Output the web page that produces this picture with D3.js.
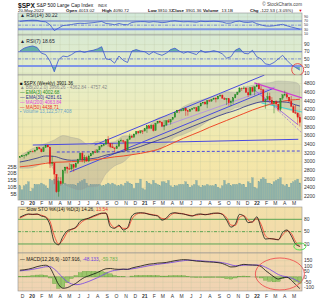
<!DOCTYPE html>
<html>
<head>
<meta charset="utf-8">
<script src="https://cdnjs.cloudflare.com/ajax/libs/d3/7.8.5/d3.min.js"></script>
<style>
  body { margin: 0; background: #fff; }
  svg { display: block; font-family: Arial, "Liberation Sans", sans-serif; }
</style>
</head>
<body>
<svg id="chart" width="324" height="300"></svg>
<script>
// weekly $SPX candles, first week ending 22-Nov-2019
const firstOpen = 3093;
const closes = [3110,3141,3146,3169,3221,3240,
  3235,3265,3330,3295,3226,3328,3380,3338,2954,2972,2711,2305,2541,2489,2790,2875,2837,2830,2930,2864,2955,3044,3194,3041,3098,3009,3130,3185,3225,3216,3271,3351,3373,3397,3508,3427,3341,3319,3298,3348,3477,3484,3465,3270,3510,3585,3558,3638,3699,3663,3709,3703,3756,
  3825,3768,3841,3714,3887,3934,3907,3811,3842,3943,3913,3975,4020,4129,4185,4180,4181,4233,4174,4156,4204,4230,4247,4166,4281,4352,4370,4327,4412,4395,4437,4468,4442,4509,4535,4459,4433,4455,4357,4391,4471,4545,4605,4697,4683,4698,4595,4538,4712,4621,4726,4766,
  4677,4663,4398,4432,4501,4419,4349,4385,4329,4204,4463,4543,4546,4488,4393,4272,4132,4123,4024,3901];
const highs = [3127,3154,3157,3183,3226,3248,
  3258,3282,3330,3338,3285,3347,3385,3393,3259,3137,2882,2553,2641,2641,2819,2880,2888,2965,2934,2938,2980,3068,3211,3233,3155,3133,3165,3198,3238,3280,3272,3352,3387,3399,3510,3588,3425,3429,3320,3397,3485,3534,3501,3466,3530,3646,3628,3645,3701,3712,3726,3712,3760,
  3826,3823,3861,3870,3895,3937,3950,3928,3960,3960,3983,3977,4021,4129,4191,4194,4219,4238,4237,4188,4217,4234,4249,4262,4286,4356,4372,4393,4415,4430,4441,4468,4480,4513,4545,4549,4485,4466,4465,4429,4475,4559,4608,4718,4708,4743,4717,4705,4713,4732,4740,4808,
  4819,4749,4665,4453,4596,4589,4490,4385,4416,4330,4465,4546,4637,4593,4488,4513,4308,4307,4127,4091];
const lows = [3090,3113,3070,3120,3175,3223,
  3212,3214,3263,3280,3214,3235,3315,3328,2855,2902,2478,2280,2191,2447,2578,2727,2727,2814,2797,2766,2903,2969,3045,2984,2966,3004,2999,3127,3152,3200,3205,3260,3328,3355,3396,3349,3310,3314,3209,3297,3361,3465,3425,3233,3279,3511,3543,3594,3622,3633,3648,3636,3723,
  3663,3749,3750,3694,3725,3875,3884,3805,3723,3830,3893,3853,3955,4034,4124,4118,4174,4167,4056,4061,4152,4186,4215,4165,4164,4279,4321,4321,4233,4373,4384,4427,4367,4448,4513,4457,4428,4306,4288,4278,4329,4460,4537,4595,4630,4670,4585,4495,4532,4600,4531,4733,
  4662,4582,4395,4222,4436,4401,4327,4115,4279,4157,4161,4424,4507,4450,4381,4268,4129,4106,3859,3810];
// weekly volume, billions
const volumes = [11,8,11,12,14,7,
  9,12,12,12,13,12,11,9,16,15,16,17,15,13,12,13,12,12,12,12,11,13,14,15,16,13,11,12,12,12,12,12,11,11,12,13,12,13,12,11,11,12,11,13,14,13,12,9,13,13,16,9,8,
  14,13,12,15,13,12,11,14,14,13,15,11,10,11,11,12,12,12,14,12,10,11,12,15,11,10,11,11,12,11,11,11,12,10,9,11,15,12,13,11,12,12,12,13,12,12,10,14,13,17,10,9,
  14,16,17,16,13,13,12,14,15,16,17,12,11,12,10,13,14,15,16,13.1];

// every 4th week (last one = final week)
const bbUpper = [3130,3250,3350,3420,3500,3600,3560,3510,3380,3470,3440,3460,3590,3600,3700,3840,4000,4050,4120,4270,4360,4420,4480,4540,4610,4600,4710,4760,4810,4820,4860,4850,4830,4757];
const bbLower = [2850,2850,2900,2990,2800,2500,2400,2350,2420,2430,2720,2900,2990,3160,3220,3240,3240,3410,3560,3630,3720,3820,3960,4060,4130,4240,4270,4320,4370,4340,4260,4210,4110,3966];
const ma50 = [2880,2900,2930,2960,2985,2990,3000,3010,3030,3050,3080,3110,3130,3160,3190,3230,3280,3360,3450,3540,3620,3700,3790,3870,3950,4030,4110,4190,4260,4320,4370,4410,4430,4439];
const ema30 = [2990,3030,3080,3130,3120,3060,3030,3040,3060,3090,3150,3190,3240,3290,3350,3420,3490,3560,3640,3730,3810,3890,3970,4050,4120,4180,4260,4330,4380,4390,4380,4370,4310,4282];

// every 2nd week
const rsi14 = [68,71,73,74,73,68,66,52,24,36,48,50,53,57,59,58,60,62,65,68,58,56,52,58,53,52,63,66,67,67,64,67,65,62,64,69,71,68,66,67,66,64,69,67,68,69,68,65,59,60,67,70,64,63,66,57,51,46,45,47,51,54,47,41,36,30.22];
const rsi7 = [72,80,84,86,82,66,62,44,14,48,58,56,62,70,72,68,72,74,78,84,50,48,38,58,46,40,72,76,72,70,62,70,64,60,66,76,80,72,66,70,66,62,74,68,70,73,70,64,52,56,74,80,66,64,74,56,50,36,34,40,50,60,46,34,26,18.65];
const stoK = [85,90,93,92,93,88,85,66,25,18,38,52,56,61,75,80,83,88,92,95,95,62,58,66,54,60,88,95,96,95,92,90,88,78,83,94,96,94,93,90,88,92,93,91,93,95,95,92,78,61,68,92,88,72,74,86,58,32,33,32,30,48,54,40,20,14.26];
const stoD = [83,88,92,92,92,90,86,75,40,20,30,48,55,59,70,78,82,86,90,94,95,70,60,63,58,58,80,92,95,95,93,91,89,82,81,90,95,95,93,91,89,90,92,92,92,94,95,93,84,66,65,85,89,78,73,82,68,40,33,32,31,42,52,46,26,13.54];
const macd = [62,66,72,82,95,104,108,85,10,-70,-105,-100,-80,-60,-30,-5,10,25,40,60,75,78,72,70,72,70,82,92,100,110,118,122,128,130,134,142,150,156,160,158,152,146,144,140,138,136,132,124,108,92,94,108,116,112,110,108,96,60,30,0,-20,-8,-4,-30,-70,-107.9];
const signal = [55,60,64,70,78,86,94,95,72,35,-10,-45,-65,-72,-68,-56,-42,-25,-8,12,32,50,60,66,70,70,74,80,88,96,104,110,116,122,126,132,138,145,150,154,154,152,149,146,143,140,137,132,124,112,104,104,108,110,110,110,106,90,70,46,22,8,0,-10,-28,-48.1];
const hist = [7,6,8,12,17,18,14,-10,-62,-105,-95,-55,-15,12,38,51,52,50,48,48,43,28,12,4,2,0,8,12,12,14,14,12,12,8,8,10,12,11,10,4,-2,-6,-5,-6,-5,-4,-5,-8,-16,-20,-10,4,8,2,0,-2,-10,-30,-40,-46,-42,-16,-4,-20,-42,-59.8];

// drawn trendlines: [date, price]
const trendLines = [
  { pts: [['2020-07-22', 3383], ['2022-01-25', 4998]], color: '#4a4ae0', w: 1 },
  { pts: [['2020-05-02', 2761], ['2022-02-26', 4698]], color: '#4a4ae0', w: 1 },
  { pts: [['2021-02-25', 3799], ['2022-02-26', 4722]], color: '#b08ae8', w: 0.8 },
  { pts: [['2020-01-03', 3383], ['2022-05-15', 3515]], color: '#4a4ae0', w: 1 },
  { pts: [['2020-03-21', 3222], ['2022-05-27', 3245]], color: '#4a4ae0', w: 1, dash: '3,2' },
  { pts: [['2021-12-23', 4814], ['2022-05-27', 4468]], color: '#d040d0', w: 1.3 },
  { pts: [['2021-12-23', 4652], ['2022-05-15', 3845]], color: '#a070e0', w: 1 },
  { pts: [['2022-01-15', 4537], ['2022-05-27', 3660]], color: '#a070e0', w: 0.8, dash: '2,1.5' },
  { pts: [['2022-01-15', 4352], ['2022-05-27', 4145]], color: '#3fd8d8', w: 1 }
];

const priceTicks = [4800,4600,4400,4200,4000,3800,3600,3400,3200,3000,2800,2600,2400,2200];
const volTicks = [25,20,15,10,5];
const rsiTicks = [90,70,50,30,10];
const stoTicks = [80,50,20];
const macdTicks = [150,100,50,0,-50,-100];

const parse = d3.timeParse('%Y-%m-%d');
const weekDates = closes.map((c, i) => d3.timeDay.offset(new Date(2019, 10, 22), i * 7));
const oscDates = rsi14.map((v, k) => weekDates[k * 2]);
const slowDates = bbUpper.map((v, k) => weekDates[Math.min(k * 4, closes.length - 1)]);

const L = 18, R = 302;
const x = d3.scaleTime().domain([new Date(2019, 10, 16), new Date(2022, 4, 27)]).range([L, R]);

const panels = {
  rsi14: [13, 35], rsi7: [35, 75], main: [75, 200], sto: [207, 253], macd: [253, 291]
};
const yPrice = d3.scaleLinear().domain([2200, 4800]).range([196.3, 83.6]);
const yVol = d3.scaleLinear().domain([0, 25]).range([200.5, 167]);
const yRsi14 = d3.scaleLinear().domain([0, 100]).range([35.5, 14.8]);
const yRsi7 = d3.scaleLinear().domain([0, 100]).range([76.8, 41]);
const ySto = d3.scaleLinear().domain([0, 100]).range([252.2, 211.1]);
const yMacd = d3.scaleLinear().domain([-100, 150]).range([287.7, 260.7]);

const svg = d3.select('#chart');
const defs = svg.append('defs');
const grad = defs.append('linearGradient').attr('id', 'bg')
  .attr('gradientUnits', 'userSpaceOnUse').attr('x1', 0).attr('y1', 13).attr('x2', 0).attr('y2', 291);
[[0, '#d2e8d8'], [0.25, '#e7edc6'], [0.5, '#f4e8a8'], [0.78, '#f2dcaa'], [1, '#f0d3b3']]
  .forEach(s => grad.append('stop').attr('offset', s[0]).attr('stop-color', s[1]));

const months = d3.timeMonth.range(new Date(2019, 11, 1), new Date(2022, 5, 1));

function panel(name, yTicks, yScale, tickSize) {
  const [y0, y1] = panels[name];
  const fs = tickSize || 5;
  defs.append('clipPath').attr('id', 'clip-' + name)
    .append('rect').attr('x', L).attr('y', y0).attr('width', R - L).attr('height', y1 - y0);
  svg.append('rect').attr('x', L).attr('y', y0).attr('width', R - L).attr('height', y1 - y0)
    .attr('fill', 'url(#bg)');
  const g = svg.append('g').attr('clip-path', `url(#clip-${name})`);
  g.selectAll('.vg').data(months).enter().append('line')
    .attr('x1', d => x(d)).attr('x2', d => x(d)).attr('y1', y0).attr('y2', y1)
    .attr('stroke', '#b9bf9c').attr('stroke-opacity', 0.45).attr('stroke-width', 0.5);
  g.selectAll('.hg').data(yTicks).enter().append('line')
    .attr('x1', L).attr('x2', R).attr('y1', d => yScale(d)).attr('y2', d => yScale(d))
    .attr('stroke', '#b9bf9c').attr('stroke-opacity', 0.45).attr('stroke-width', 0.5);
  // right axis labels
  svg.selectAll(null).data(yTicks).enter().append('text')
    .attr('x', R + 2).attr('y', d => yScale(d) + fs * 0.34)
    .attr('font-size', fs).attr('fill', '#333').text(d => d);
  return g;
}

function border(name) {
  const [y0, y1] = panels[name];
  svg.append('rect').attr('x', L).attr('y', y0).attr('width', R - L).attr('height', y1 - y0)
    .attr('fill', 'none').attr('stroke', '#8f8f8f').attr('stroke-width', 0.6);
}

// ---------- header ----------
const head = svg.append('g').attr('fill', '#111');
head.append('text').attr('x', L).attr('y', 7.6).attr('font-size', 6.6).attr('font-weight', 'bold').text('$SPX');
head.append('text').attr('x', 36.5).attr('y', 7.2).attr('font-size', 4.9).text('S&P 500 Large Cap Index');
head.append('text').attr('x', 98).attr('y', 7.2).attr('font-size', 3.8).text('INDX');
head.append('text').attr('x', R).attr('y', 5.5).attr('font-size', 4.6).attr('text-anchor', 'end')
  .attr('fill', '#444').text('© StockCharts.com');
const info = [
  [L, '20-May-2022', false], [66, 'Open', true], [78.5, '4013.02', false], [102, 'High', true],
  [113, '4090.72', false], [148, 'Low', true], [157.5, '3810.32', false], [172, 'Close', true],
  [185.5, '3901.36', false], [203, 'Volume', true], [221.5, '13.1B', false], [250, 'Chg', true],
  [260, '-122.53 (-3.05%)', false]
];
info.forEach(d => head.append('text').attr('x', d[0]).attr('y', 12.3).attr('font-size', 4.4)
  .attr('font-weight', d[2] ? 'bold' : 'normal').text(d[1]));
head.append('text').attr('x', 298.5).attr('y', 12.3).attr('font-size', 4).attr('fill', '#e00000').text('▼');

// ---------- RSI panels ----------
function rsiPanel(name, vals, yS, label, fs) {
  const g = panel(name, rsiTicks, yS, fs);
  const [y0, y1] = panels[name];
  const pts = vals.map((v, k) => [x(oscDates[k]), v]);
  defs.append('clipPath').attr('id', name + '-hi').append('rect')
    .attr('x', L).attr('y', y0).attr('width', R - L).attr('height', yS(70) - y0);
  defs.append('clipPath').attr('id', name + '-lo').append('rect')
    .attr('x', L).attr('y', yS(30)).attr('width', R - L).attr('height', y1 - yS(30));
  g.append('path').datum(pts).attr('clip-path', `url(#${name}-hi)`)
    .attr('d', d3.area().x(d => d[0]).y0(yS(70)).y1(d => yS(d[1])))
    .attr('fill', '#3f9c98').attr('fill-opacity', 0.75);
  g.append('path').datum(pts).attr('clip-path', `url(#${name}-lo)`)
    .attr('d', d3.area().x(d => d[0]).y0(yS(30)).y1(d => yS(d[1])))
    .attr('fill', '#3f9c98').attr('fill-opacity', 0.75);
  g.append('line').attr('x1', L).attr('x2', R).attr('y1', yS(70)).attr('y2', yS(70))
    .attr('stroke', '#5468d8').attr('stroke-width', 0.9);
  g.append('line').attr('x1', L).attr('x2', R).attr('y1', yS(50)).attr('y2', yS(50))
    .attr('stroke', '#5468d8').attr('stroke-width', 0.7).attr('stroke-dasharray', '3,1.5,1,1.5');
  g.append('line').attr('x1', L).attr('x2', R).attr('y1', yS(30)).attr('y2', yS(30))
    .attr('stroke', '#7f95e6').attr('stroke-width', 2);
  g.append('path').datum(pts).attr('d', d3.line().x(d => d[0]).y(d => yS(d[1])))
    .attr('fill', 'none').attr('stroke', '#3b55d0').attr('stroke-width', 0.8);
  svg.append('text').attr('x', L + 2).attr('y', y0 + (name === 'rsi14' ? 4.2 : 7.8))
    .attr('font-size', 5).attr('fill', '#223').text(label);
  border(name);
}
rsiPanel('rsi14', rsi14, yRsi14, '▲ RSI(14) 30.22', 3.6);
rsiPanel('rsi7', rsi7, yRsi7, '▲ RSI(7) 18.65', 5);
svg.append('circle').attr('cx', x(weekDates[129])).attr('cy', yRsi7(20)).attr('r', 6)
  .attr('fill', 'none').attr('stroke', '#e84040').attr('stroke-width', 0.9);

// ---------- main price panel ----------
const gm = panel('main', priceTicks, yPrice);
// volume
gm.selectAll('.vol').data(volumes).enter().append('rect')
  .attr('x', (d, i) => x(weekDates[i]) - 0.95).attr('width', 1.9)
  .attr('y', d => yVol(d)).attr('height', d => yVol(0) - yVol(d))
  .attr('fill', '#8fb2aa').attr('stroke', '#7aa39a').attr('stroke-width', 0.25);
svg.selectAll('.vt').data(volTicks).enter().append('text')
  .attr('x', L - 1.5).attr('y', d => yVol(d) + 1.7).attr('text-anchor', 'end')
  .attr('font-size', 5).attr('fill', '#333').text(d => d + 'B');
// bollinger band
gm.append('path').datum(bbUpper.map((u, k) => [slowDates[k], u, bbLower[k]]))
  .attr('d', d3.area().curve(d3.curveMonotoneX).x(d => x(d[0])).y0(d => yPrice(d[2])).y1(d => yPrice(d[1])))
  .attr('fill', '#8c8c8c').attr('fill-opacity', 0.3).attr('stroke', '#9a9a9a').attr('stroke-width', 0.3);
// trendlines
trendLines.forEach(t => gm.append('line')
  .attr('x1', x(parse(t.pts[0][0]))).attr('y1', yPrice(t.pts[0][1]))
  .attr('x2', x(parse(t.pts[1][0]))).attr('y2', yPrice(t.pts[1][1]))
  .attr('stroke', t.color).attr('stroke-width', t.w).attr('stroke-dasharray', t.dash || null));
// averages
const avgLine = d3.line().curve(d3.curveMonotoneX).x((d, k) => x(slowDates[k])).y(d => yPrice(d));
gm.append('path').datum(ma50).attr('d', avgLine).attr('fill', 'none')
  .attr('stroke', '#ee4a2a').attr('stroke-width', 1);
gm.append('path').datum(ema30).attr('d', avgLine).attr('fill', 'none')
  .attr('stroke', '#2b2f8a').attr('stroke-width', 0.8);
// candles
const opens = closes.map((c, i) => i ? closes[i - 1] : firstOpen);
const cand = gm.selectAll('.c').data(closes).enter().append('g')
  .attr('stroke', (c, i) => c >= opens[i] ? '#1f7a1f' : '#e01818')
  .attr('fill', (c, i) => c >= opens[i] ? '#2e9a2e' : '#e01818');
cand.append('line').attr('x1', (c, i) => x(weekDates[i])).attr('x2', (c, i) => x(weekDates[i]))
  .attr('y1', (c, i) => yPrice(highs[i])).attr('y2', (c, i) => yPrice(lows[i])).attr('stroke-width', 0.5);
cand.append('rect').attr('x', (c, i) => x(weekDates[i]) - 0.75).attr('width', 1.5)
  .attr('y', (c, i) => yPrice(Math.max(c, opens[i])))
  .attr('height', (c, i) => Math.max(0.6, Math.abs(yPrice(c) - yPrice(opens[i]))))
  .attr('stroke-width', 0.2);
// legend
const legend = [
  ['$SPX (Weekly) 3901.36', '#111', '■'],
  ['BB(20,2.0) 3966.26 - 4362.84 - 4757.42', '#8a8a8a', '▲'],
  ['EMA(3) 4002.68', '#1a8a1a', '—'],
  ['EMA(30) 4281.61', '#2b2f8a', '—'],
  ['MA(200) 4063.84', '#e040e0', '—'],
  ['MA(50) 4438.71', '#ee2a2a', '—'],
  ['Volume 13,122,577,408', '#6aa6c8', '▪']
];
legend.forEach((d, k) => svg.append('text').attr('x', L + 2).attr('y', 84.5 + k * 4.8)
  .attr('font-size', 4.6).attr('fill', d[1]).text(d[2] + ' ' + d[0]));
border('main');

// month labels
function monthLabels(y) {
  svg.selectAll(null).data(months).enter().append('text')
    .attr('x', d => x(d)).attr('y', y).attr('text-anchor', 'middle').attr('font-size', 5)
    .attr('font-weight', d => d.getMonth() === 0 ? 'bold' : 'normal').attr('fill', '#333')
    .text(d => d.getMonth() === 0 ? d3.timeFormat('%y')(d) : d3.timeFormat('%b')(d)[0]);
}
monthLabels(205);
monthLabels(297.5);

// ---------- stochastics ----------
const gs = panel('sto', stoTicks, ySto);
[[80, null], [50, '3,1.5,1,1.5'], [20, null]].forEach(l => gs.append('line')
  .attr('x1', L).attr('x2', R).attr('y1', ySto(l[0])).attr('y2', ySto(l[0]))
  .attr('stroke', '#3d9a3d').attr('stroke-width', 0.8).attr('stroke-dasharray', l[1]));
const oscLine = yS => d3.line().curve(d3.curveMonotoneX).x((d, k) => x(oscDates[k])).y(d => yS(d));
gs.append('path').datum(stoD).attr('d', oscLine(ySto)).attr('fill', 'none')
  .attr('stroke', '#f04a3a').attr('stroke-width', 0.9);
gs.append('path').datum(stoK).attr('d', oscLine(ySto)).attr('fill', 'none')
  .attr('stroke', '#111').attr('stroke-width', 0.8);
const stoLab = svg.append('text').attr('x', L + 2).attr('y', 211).attr('font-size', 4.8).attr('fill', '#111');
stoLab.append('tspan').text('— Slow STO %K(14) %D(3) 14.26, ');
stoLab.append('tspan').attr('fill', '#f03030').text('13.54');
svg.append('ellipse').attr('cx', x(weekDates[130])).attr('cy', ySto(14)).attr('rx', 6).attr('ry', 3.5)
  .attr('fill', 'none').attr('stroke', '#3ddc3d').attr('stroke-width', 0.9);
border('sto');

// ---------- MACD ----------
const gc = panel('macd', macdTicks, yMacd);
gc.append('line').attr('x1', L).attr('x2', R).attr('y1', yMacd(0)).attr('y2', yMacd(0))
  .attr('stroke', '#9aa080').attr('stroke-width', 0.5);
gc.selectAll('.h').data(hist).enter().append('rect')
  .attr('x', (d, k) => x(oscDates[k]) - 1.9).attr('width', 3.8)
  .attr('y', d => Math.min(yMacd(d), yMacd(0))).attr('height', d => Math.abs(yMacd(d) - yMacd(0)))
  .attr('fill', '#86c25a').attr('fill-opacity', 0.8).attr('stroke', '#4e9a2a').attr('stroke-width', 0.3);
gc.append('path').datum(signal).attr('d', oscLine(yMacd)).attr('fill', 'none')
  .attr('stroke', '#8050e0').attr('stroke-width', 0.9);
gc.append('path').datum(macd).attr('d', oscLine(yMacd)).attr('fill', 'none')
  .attr('stroke', '#111').attr('stroke-width', 0.8);
const macdLab = svg.append('text').attr('x', L + 2).attr('y', 260.5).attr('font-size', 4.8).attr('fill', '#111');
macdLab.append('tspan').text('— MACD(12,26,9) -107.916, ');
macdLab.append('tspan').attr('fill', '#7040e0').text('-48.133');
macdLab.append('tspan').text(', ');
macdLab.append('tspan').attr('fill', '#6ab04a').text('-59.783');
svg.append('ellipse').attr('cx', x(parse('2022-03-16'))).attr('cy', yMacd(27)).attr('rx', 24.5).attr('ry', 16)
  .attr('fill', 'none').attr('stroke', '#f05050').attr('stroke-width', 0.9);
border('macd');
</script>
</body>
</html>
